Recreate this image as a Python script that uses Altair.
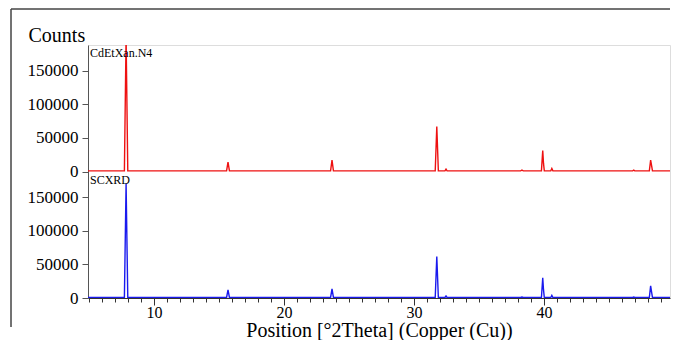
import altair as alt
import pandas as pd

# ---- data ----
red_theta = [4.92, 7.72, 7.85, 7.98, 15.58, 15.69, 15.80, 23.58, 23.69, 23.80,
             31.63, 31.75, 31.87, 32.38, 32.46, 32.54, 38.20, 38.30, 38.40,
             39.80, 39.90, 39.96, 40.02, 40.52, 40.60, 40.68, 46.82, 46.90, 46.98,
             48.10, 48.20, 48.28, 48.34, 50.15]
red_counts = [1000, 1000, 200000, 1000, 1000, 14000, 1000, 1000, 17000, 1000,
              1000, 67000, 1000, 1000, 3500, 1000, 1000, 2000, 1000,
              1000, 31000, 12000, 1000, 1000, 4500, 1000, 1000, 2000, 1000,
              1000, 17000, 8000, 1000, 1000]

blue_theta = [4.92, 7.72, 7.85, 7.98, 15.58, 15.69, 15.80, 23.58, 23.69, 23.80,
              31.63, 31.75, 31.87, 32.38, 32.46, 32.54, 38.20, 38.30, 38.40,
              39.80, 39.90, 39.96, 40.02, 40.52, 40.60, 40.68, 46.82, 46.90, 46.98,
              48.10, 48.20, 48.28, 48.34, 50.15]
blue_counts = [800, 800, 170000, 800, 800, 12000, 800, 800, 13500, 800,
               800, 61500, 800, 800, 3000, 800, 800, 1500, 800,
               800, 30000, 12000, 800, 800, 4000, 800, 800, 1500, 800,
               800, 18000, 8000, 800, 800]

panel_names = ["CdEtXan.N4", "SCXRD"]
panel_offset = [188000, 0]
panel_colors = ["#ee1111", "#1a1aee"]
y_ticks = [0, 50000, 100000, 150000]
x_ticks = list(range(5, 50))

rows = []
for t, c in zip(red_theta, red_counts):
    rows.append({"theta": t, "counts": c, "panel": panel_names[0], "offset": panel_offset[0]})
for t, c in zip(blue_theta, blue_counts):
    rows.append({"theta": t, "counts": c, "panel": panel_names[1], "offset": panel_offset[1]})
df = pd.DataFrame(rows)

FONT = "Liberation Serif"
W, H = 582, 253
span = 2 * panel_offset[0]

tick_values = [v for v in y_ticks] + [v + panel_offset[0] for v in y_ticks]

x_scale = alt.Scale(domain=[4.92, 4.92 + W / 13.0], nice=False, zero=False)
y_scale = alt.Scale(domain=[0, span], nice=False, zero=False)

y_axis = alt.Axis(values=tick_values,
                  labelExpr=f"datum.value >= {panel_offset[0]} ? format(datum.value - {panel_offset[0]}, 'd') : format(datum.value, 'd')",
                  labelOverlap=False,
                  title="Counts", titleAngle=0, titleX=-60, titleY=-4,
                  titleAlign="left", titleBaseline="alphabetic",
                  titleFont=FONT, titleFontSize=20, titleFontWeight="normal",
                  titleColor="black",
                  labelFont=FONT, labelFontSize=17, labelColor="black",
                  labelPadding=4, tickSize=6,
                  domainColor="#555", tickColor="#555", grid=False)

x_axis = alt.Axis(values=x_ticks,
                  labelExpr="datum.value % 10 === 0 ? datum.label : ''",
                  tickSize={"condition": {"test": "datum.value % 10 === 0", "value": 7}, "value": 4},
                  labelOverlap=False, labelFlush=False,
                  title="Position [°2Theta] (Copper (Cu))",
                  titleFont=FONT, titleFontSize=20, titleFontWeight="normal",
                  titleY=38, titleBaseline="alphabetic", titleColor="black",
                  labelFont=FONT, labelFontSize=16, labelColor="black",
                  labelPadding=-1,
                  domainColor="#333", tickColor="#333", grid=False)

lines = alt.Chart(df).transform_calculate(
    y="datum.counts + datum.offset"
).mark_line(strokeWidth=1.4, clip=True).encode(
    x=alt.X("theta:Q", scale=x_scale, axis=x_axis),
    y=alt.Y("y:Q", scale=y_scale, axis=y_axis),
    color=alt.Color("panel:N", scale=alt.Scale(domain=panel_names, range=panel_colors), legend=None),
    detail="panel:N",
)

lab_df = pd.DataFrame({"name": panel_names, "offset": panel_offset})
labels = alt.Chart(lab_df).mark_text(
    font=FONT, fontSize=12, align="left", baseline="alphabetic", color="black", dx=2, dy=12
).encode(
    x=alt.value(0),
    y=alt.Y("y:Q", scale=y_scale, axis=y_axis),
    text="name:N",
).transform_calculate(y=f"datum.offset + {panel_offset[0]}")

frame_left = alt.Chart(lab_df).mark_rule(color="#444", strokeWidth=1).encode(
    x=alt.value(-77), y=alt.value(-36), y2=alt.value(282)
)
frame_top = alt.Chart(lab_df).mark_rule(color="#444", strokeWidth=1).encode(
    x=alt.value(-77), x2=alt.value(W), y=alt.value(-36)
)

chart = alt.layer(frame_left, frame_top, lines, labels).properties(
    width=W, height=H, padding={"left": 2, "top": 0, "right": 0, "bottom": 0}
).configure_view(stroke="#999", strokeWidth=1).configure(
    background="white", font=FONT
).configure_axis(labelFont=FONT, titleFont=FONT, labelOverlap=False
).configure_axisY(labelFontSize=17, labelFont=FONT)

chart.save("out.html", embed_options={"renderer": "svg", "actions": False})
